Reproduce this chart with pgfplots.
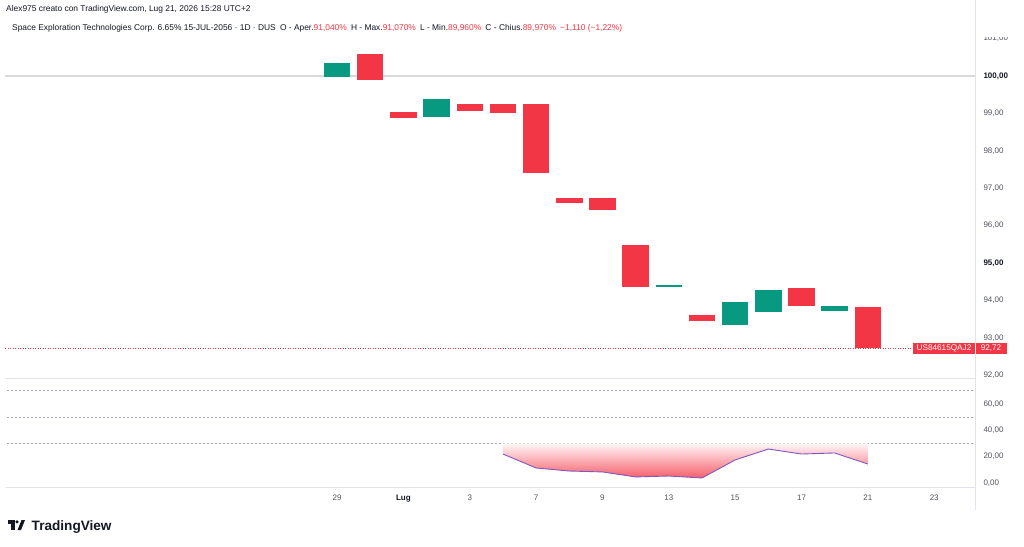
\documentclass[border=0pt]{standalone}
\usepackage{pgfplots}
\pgfplotsset{compat=1.18}
\usepackage{pgfplotstable}
\usepackage{fontspec}
\setmainfont{Liberation Sans}
\definecolor{tvgreen}{HTML}{089981}
\definecolor{tvred}{HTML}{F23645}
\definecolor{tvgray}{HTML}{50535E}
\definecolor{tvline}{HTML}{E0E3EB}
\definecolor{tvdark}{HTML}{131722}
\definecolor{tvpurple}{HTML}{7E57C2}
\definecolor{tvdash}{HTML}{A3A6AF}

% candles: i = trading-day index (0 = 29 Jun), o = open, c = close
\pgfplotstableread{
i o c
0 99.97 100.35
3 98.90 99.38
10 94.37 94.41
12 93.34 93.96
13 93.69 94.28
15 93.72 93.85
}\greencandles
\pgfplotstableread{
i o c
1 100.59 99.89
2 99.04 98.88
4 99.25 99.06
5 99.25 99.01
6 99.25 97.41
7 96.74 96.60
8 96.74 96.42
9 95.48 94.36
11 93.61 93.45
14 94.33 93.85
16 93.82 92.72
}\redcandles
\pgfplotstableread{
i r
5 22.0
6 11.4
7 9.1
8 8.4
9 4.6
10 5.3
11 3.8
12 17.5
13 25.8
14 22.0
15 22.8
16 14.4
}\rsidata

\begin{document}
\begin{tikzpicture}

% ---------------- main price panel ----------------
\begin{axis}[
  at={(0pt,168pt)}, anchor=south west, scale only axis,
  width=975pt, height=356pt,
  xmin=-10.16, xmax=19.23, ymin=91.925, ymax=101.444,
  axis line style={draw=none}, xtick=\empty,
  ytick={92,93,94,95,96,97,98,99,100,101},
  yticklabels={{92,00},{93,00},{94,00},{\textbf{\color{tvdark}95,00}},{96,00},{97,00},{98,00},{99,00},{\textbf{\color{tvdark}100,00}},{101,00}},
  yticklabel pos=right, major tick length=0pt,
  yticklabel style={font=\fontsize{8}{9}\selectfont, text=tvgray, anchor=west, xshift=5pt},
]
\addplot[color=black!15, line width=1.4pt, forget plot] coordinates {(-10.0,100) (19.23,100)};
\addplot[color=tvred, dotted, line width=0.5pt, forget plot] coordinates {(-10.0,92.72) (17.37,92.72)};
\addplot[draw=none, mark=none, forget plot,
  error bars/.cd, y dir=plus, y explicit, error mark=none,
  error bar style={line width=26.5pt, draw=tvgreen}]
  table[x=i, y expr={min(\thisrow{o},\thisrow{c})}, y error expr={abs(\thisrow{c}-\thisrow{o})}] {\greencandles};
\addplot[draw=none, mark=none, forget plot,
  error bars/.cd, y dir=plus, y explicit, error mark=none,
  error bar style={line width=26.5pt, draw=tvred}]
  table[x=i, y expr={min(\thisrow{o},\thisrow{c})}, y error expr={abs(\thisrow{c}-\thisrow{o})}] {\redcandles};
\end{axis}

% ---------------- RSI panel ----------------
\begin{axis}[
  at={(0pt,59pt)}, anchor=south west, scale only axis,
  width=975pt, height=107pt,
  xmin=-10.16, xmax=19.23, ymin=-3.04, ymax=78.2,
  axis line style={draw=none},
  xtick={0,2,4,6,8,10,12,14,16,18},
  xticklabels={29,{\textbf{\color{tvdark}Lug}},3,7,9,13,15,17,21,23},
  ytick={0,20,40,60},
  yticklabels={{0,00},{20,00},{40,00},{60,00}},
  yticklabel pos=right, major tick length=0pt,
  yticklabel style={font=\fontsize{8}{9}\selectfont, text=tvgray, anchor=west, xshift=5pt},
  xticklabel style={font=\fontsize{8}{9}\selectfont, text=tvgray, yshift=-4pt},
]
\addplot[color=tvdash, dash pattern=on 2pt off 2pt, line width=0.6pt, forget plot] coordinates {(-9.95,70) (19.23,70)};
\addplot[color=tvdash, dash pattern=on 2pt off 2pt, line width=0.6pt, forget plot] coordinates {(-9.95,50) (19.23,50)};
\addplot[color=tvdash, dash pattern=on 2pt off 2pt, line width=0.6pt, forget plot] coordinates {(-9.95,30) (19.23,30)};
\addplot[draw=none, top color=tvred!4, bottom color=tvred!80, forget plot]
  table[x=i, y=r] {\rsidata} -- (axis cs:16,30) -- (axis cs:5,30) -- cycle;
\addplot[color=tvpurple, line width=0.9pt, forget plot] table[x=i, y=r] {\rsidata};
\end{axis}

% ---------------- frame / separators ----------------
\draw[tvline, line width=0.8pt] (5pt,168pt) -- (975pt,168pt);
\draw[tvline, line width=0.8pt] (5pt,59pt) -- (975pt,59pt);

% header background and text
\fill[white] (0pt,509pt) rectangle (1024pt,546pt);
\draw[tvline, line width=0.8pt] (975pt,546pt) -- (975pt,36pt);
\node[anchor=base west, inner sep=0pt, font=\fontsize{8.4}{9}\selectfont, text=tvdark] at (6pt,534pt)
  {Alex975 creato con TradingView.com, Lug 21, 2026 15:28 UTC+2};
\node[anchor=base west, inner sep=0pt, font=\fontsize{8.4}{9}\selectfont, text=tvdark] at (12pt,515pt)
  {Space Exploration Technologies Corp. 6.65\% 15-JUL-2056 · 1D · DUS\enspace O - Aper.\textcolor{tvred}{91,040\%}\enspace H - Max.\textcolor{tvred}{91,070\%}\enspace L - Min.\textcolor{tvred}{89,960\%}\enspace C - Chius.\textcolor{tvred}{89,970\%}\enspace\textcolor{tvred}{−1,110 (−1,22\%)}};

% last price label
\fill[tvred] (913pt,192pt) rectangle (1007pt,203pt);
\draw[white, line width=0.4pt] (975pt,192pt) -- (975pt,203pt);
\node[text=white, font=\fontsize{8.2}{9}\selectfont, inner sep=0pt] at (944pt,197.5pt) {US84615QAJ2};
\node[text=white, font=\fontsize{8.2}{9}\selectfont, inner sep=0pt] at (991pt,197.5pt) {92,72};

% TradingView logo
\fill[tvdark] (8pt,22.5pt) rectangle (14.5pt,26pt);
\fill[tvdark] (11pt,16pt) rectangle (14.5pt,26pt);
\fill[tvdark] (17pt,24.2pt) circle (1.8pt);
\fill[tvdark] (17.5pt,16pt) -- (21.5pt,26pt) -- (25pt,26pt) -- (21pt,16pt) -- cycle;
\node[anchor=base west, inner sep=0pt, font=\fontsize{13.6}{14}\selectfont\bfseries, text=tvdark] at (31.5pt,16pt) {TradingView};

\pgfresetboundingbox
\useasboundingbox (0pt,0pt) rectangle (1024pt,546pt);
\end{tikzpicture}
\end{document}
